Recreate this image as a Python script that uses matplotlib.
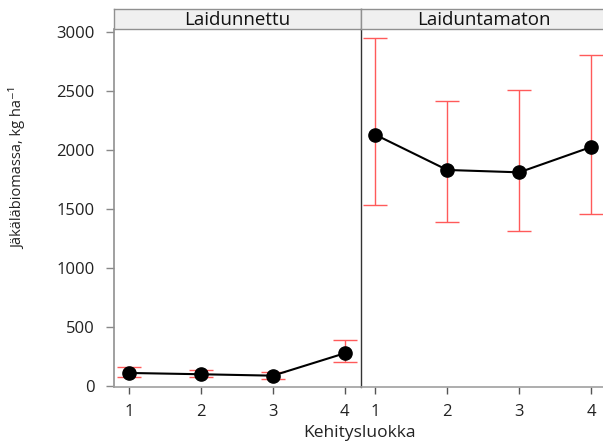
import matplotlib
matplotlib.use("Agg")
import matplotlib.pyplot as plt
from matplotlib import font_manager

plt.rcParams['font.family'] = ['Open Sans', 'DejaVu Sans']

classes = [1, 2, 3, 4]
panels = ["Laidunnettu", "Laiduntamaton"]
means = {
    "Laidunnettu": [108, 97, 85, 275],
    "Laiduntamaton": [2127, 1828, 1808, 2023],
}
upper = {
    "Laidunnettu": [156, 131, 119, 385],
    "Laiduntamaton": [2947, 2413, 2503, 2800],
}
lower = {
    "Laidunnettu": [71, 71, 57, 198],
    "Laiduntamaton": [1534, 1390, 1308, 1458],
}
yticks = [0, 500, 1000, 1500, 2000, 2500, 3000]

W, H = 603, 441
fig = plt.figure(figsize=(W / 100, H / 100), dpi=100)

px_unit = 72.0
xlo, xhi = 0.797, 4.22
pw = (xhi - xlo) * px_unit
left0 = 114.2
ax_bottom_px = 387.3
ax_top_px = 29.3
strip_h = 20.3

for i, name in enumerate(panels):
    lx = left0 + i * pw
    ax = fig.add_axes([lx / W, (H - ax_bottom_px) / H, pw / W, (ax_bottom_px - ax_top_px) / H])
    m = means[name]
    lo = [a - b for a, b in zip(m, lower[name])]
    hi = [b - a for a, b in zip(m, upper[name])]
    ax.errorbar(classes, m, yerr=[lo, hi], fmt='none', ecolor='#ff5a5a',
                elinewidth=1.0, capsize=8.5, capthick=1.0, zorder=2)
    ax.plot(classes, m, color='black', lw=1.5, marker='o', markersize=9.5,
            markerfacecolor='black', markeredgecolor='black', zorder=3)
    ax.set_xlim(xlo, xhi)
    ax.set_ylim(-13.6, 3020)
    ax.set_xticks(classes)
    ax.set_xticklabels([str(c) for c in classes], fontsize=12, color='#222222')
    ax.tick_params(axis='x', direction='out', length=5, width=1, color='#555555', pad=7)
    for s in ['top', 'right']:
        ax.spines[s].set_visible(False)
    ax.spines['bottom'].set_color('#a0a0a0')
    ax.spines['bottom'].set_linewidth(1.2)
    if i == 0:
        ax.set_yticks(yticks)
        ax.set_yticklabels([str(v) for v in yticks], fontsize=12, color='#222222')
        ax.tick_params(axis='y', direction='out', length=6, width=1, color='#888888', pad=8)
        ax.spines['left'].set_color('#909090')
        ax.spines['left'].set_linewidth(1.2)
    else:
        ax.set_yticks([])
        ax.spines['left'].set_color('#333333')
        ax.spines['left'].set_linewidth(1.0)
    sax = fig.add_axes([lx / W, (H - ax_top_px) / H, pw / W, strip_h / H])
    sax.set_xticks([]); sax.set_yticks([])
    sax.set_facecolor('#f0f0f0')
    for s in sax.spines.values():
        s.set_color('#909090')
        s.set_linewidth(1.0)
    sax.text(0.5, 0.45, name, ha='center', va='center', fontsize=13.5, color='#111111',
             transform=sax.transAxes)

fig.text(360 / W, 1 - 433 / H, "Kehitysluokka", ha='center', va='center', fontsize=12.5, color='#222222')

names = {f.name for f in font_manager.fontManager.ttflist}
if 'Liberation Sans Narrow' in names:
    yl_family, yl_size = ['Liberation Sans Narrow', 'DejaVu Sans'], 12
else:
    yl_family, yl_size = ['Open Sans', 'DejaVu Sans'], 10.5
fig.text(18 / W, 1 - 168 / H, "Jäkäläbiomassa, kg ha⁻¹", ha='center', va='center', rotation=90,
         fontsize=yl_size, color='#222222', family=yl_family)

fig.savefig("out.png", dpi=100)
